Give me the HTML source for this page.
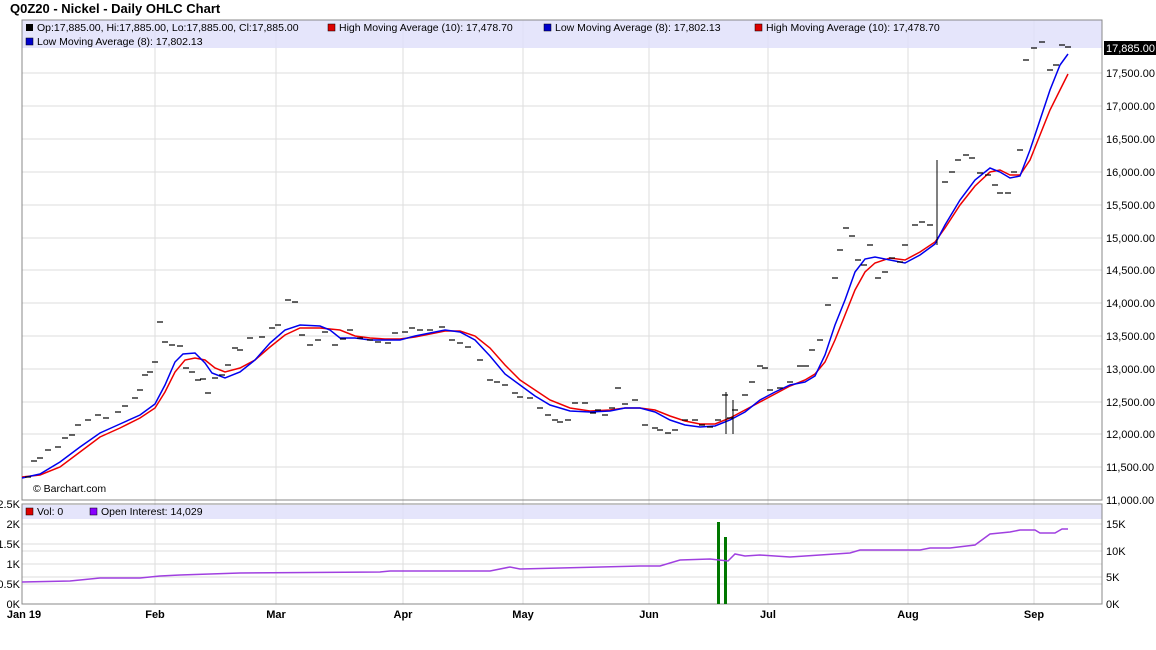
<!DOCTYPE html>
<html><head><meta charset="utf-8"><style>
body{margin:0;background:#fff;font-family:"Liberation Sans",sans-serif;}
svg text{font-family:"Liberation Sans",sans-serif;}
</style></head><body>
<svg width="1156" height="645" xmlns="http://www.w3.org/2000/svg">
<rect width="1156" height="645" fill="#fff"/>
<text x="10" y="13" font-size="13" font-weight="bold" fill="#000">Q0Z20 - Nickel - Daily OHLC Chart</text>
<g stroke="#ddd" stroke-width="1">
<line x1="155" y1="20" x2="155" y2="604"/><line x1="276" y1="20" x2="276" y2="604"/><line x1="403" y1="20" x2="403" y2="604"/><line x1="523" y1="20" x2="523" y2="604"/><line x1="649" y1="20" x2="649" y2="604"/><line x1="768" y1="20" x2="768" y2="604"/><line x1="908" y1="20" x2="908" y2="604"/><line x1="1034" y1="20" x2="1034" y2="604"/>
<line x1="22" y1="73" x2="1102" y2="73"/><line x1="22" y1="106" x2="1102" y2="106"/><line x1="22" y1="139" x2="1102" y2="139"/><line x1="22" y1="172" x2="1102" y2="172"/><line x1="22" y1="205" x2="1102" y2="205"/><line x1="22" y1="238" x2="1102" y2="238"/><line x1="22" y1="270" x2="1102" y2="270"/><line x1="22" y1="303" x2="1102" y2="303"/><line x1="22" y1="336" x2="1102" y2="336"/><line x1="22" y1="369" x2="1102" y2="369"/><line x1="22" y1="402" x2="1102" y2="402"/><line x1="22" y1="434" x2="1102" y2="434"/><line x1="22" y1="467" x2="1102" y2="467"/>
<line x1="22" y1="524" x2="1102" y2="524"/><line x1="22" y1="544" x2="1102" y2="544"/><line x1="22" y1="551" x2="1102" y2="551"/><line x1="22" y1="564" x2="1102" y2="564"/><line x1="22" y1="577" x2="1102" y2="577"/><line x1="22" y1="584" x2="1102" y2="584"/>
</g>
<rect x="22" y="20" width="1080" height="28" fill="#e0e0fa" opacity="0.85"/>
<rect x="22" y="505" width="1080" height="14" fill="#e0e0fa" opacity="0.85"/>
<g font-size="10.5" fill="#000">
<rect x="26" y="24" width="7" height="7" fill="#000"/><text x="37" y="31">Op:17,885.00, Hi:17,885.00, Lo:17,885.00, Cl:17,885.00</text>
<rect x="328" y="24" width="7" height="7" fill="#d00" stroke="#000" stroke-width=".5"/><text x="339" y="31">High Moving Average (10): 17,478.70</text>
<rect x="544" y="24" width="7" height="7" fill="#00c" stroke="#000" stroke-width=".5"/><text x="555" y="31">Low Moving Average (8): 17,802.13</text>
<rect x="755" y="24" width="7" height="7" fill="#d00" stroke="#000" stroke-width=".5"/><text x="766" y="31">High Moving Average (10): 17,478.70</text>
<rect x="26" y="38" width="7" height="7" fill="#00c" stroke="#000" stroke-width=".5"/><text x="37" y="45">Low Moving Average (8): 17,802.13</text>
<text x="33" y="492">© Barchart.com</text>
<rect x="26" y="508" width="7" height="7" fill="#d00" stroke="#000" stroke-width=".5"/><text x="37" y="515">Vol: 0</text>
<rect x="90" y="508" width="7" height="7" fill="#80f" stroke="#000" stroke-width=".5"/><text x="101" y="515">Open Interest: 14,029</text>
</g>
<rect x="22" y="20" width="1080" height="480" fill="none" stroke="#888"/>
<rect x="22" y="504" width="1080" height="100" fill="none" stroke="#888"/>
<g font-size="11" fill="#000">
<text x="1106" y="77">17,500.00</text><text x="1106" y="110">17,000.00</text><text x="1106" y="143">16,500.00</text><text x="1106" y="176">16,000.00</text><text x="1106" y="209">15,500.00</text><text x="1106" y="242">15,000.00</text><text x="1106" y="274">14,500.00</text><text x="1106" y="307">14,000.00</text><text x="1106" y="340">13,500.00</text><text x="1106" y="373">13,000.00</text><text x="1106" y="406">12,500.00</text><text x="1106" y="438">12,000.00</text><text x="1106" y="471">11,500.00</text><text x="1106" y="504">11,000.00</text>
<rect x="1104" y="41" width="52" height="14" fill="#000"/><text x="1106" y="52" fill="#fff">17,885.00</text>
<text x="1106" y="528">15K</text><text x="1106" y="555">10K</text><text x="1106" y="581">5K</text><text x="1106" y="608">0K</text>
<g text-anchor="end"><text x="20" y="508">2.5K</text><text x="20" y="528">2K</text><text x="20" y="548">1.5K</text><text x="20" y="568">1K</text><text x="20" y="588">0.5K</text><text x="20" y="608">0K</text></g>
<g font-weight="bold" text-anchor="middle"><text x="24" y="618">Jan 19</text><text x="155" y="618">Feb</text><text x="276" y="618">Mar</text><text x="403" y="618">Apr</text><text x="523" y="618">May</text><text x="649" y="618">Jun</text><text x="768" y="618">Jul</text><text x="908" y="618">Aug</text><text x="1034" y="618">Sep</text></g>
</g>
<polyline fill="none" stroke="#e00" stroke-width="1.5" points="22,477 40,475 60,467 80,452 100,437 120,428 140,418 155,408 165,392 175,372 185,360 195,358 205,360 215,368 225,372 240,368 255,360 270,347 285,335 300,328 320,328 340,330 355,336 370,338 385,339 400,339 415,337 430,334 445,331 460,331 475,336 490,348 505,365 520,380 535,390 550,400 570,408 590,411 610,410 625,408 640,408 655,410 670,416 685,421 700,424 715,424 730,418 745,410 760,402 775,394 790,386 805,380 815,374 825,362 835,340 845,315 855,290 865,272 875,263 890,258 905,260 920,252 935,242 945,228 960,205 975,186 990,172 1000,170 1010,175 1020,175 1030,160 1040,135 1050,110 1060,90 1068,74"/>
<polyline fill="none" stroke="#00e" stroke-width="1.5" points="22,478 40,474 60,462 80,447 100,433 120,424 140,415 155,404 165,385 175,362 183,354 195,353 205,363 212,373 225,378 240,372 255,360 270,343 285,330 300,325 320,326 330,330 340,338 355,338 370,340 385,340 400,340 415,336 430,333 445,330 460,332 475,340 490,356 505,374 520,385 535,396 550,405 570,411 590,412 610,411 625,408 640,408 655,412 670,420 685,425 700,427 715,426 730,420 745,412 760,400 775,392 790,385 805,382 815,376 825,355 835,325 845,300 855,272 865,259 875,257 890,260 905,263 920,255 935,244 945,225 960,200 975,180 990,168 1000,172 1010,178 1020,176 1030,150 1040,120 1050,90 1060,65 1068,54"/>
<g id="ticks" stroke="#000" stroke-width="1.2"></g>
<line x1="726" y1="392" x2="726" y2="434" stroke="#000"/>
<line x1="733" y1="400" x2="733" y2="434" stroke="#000"/>
<line x1="937" y1="160" x2="937" y2="245" stroke="#000"/>
<rect x="717" y="522" width="3" height="82" fill="#070"/>
<rect x="724" y="537" width="3" height="67" fill="#070"/>
<polyline fill="none" stroke="#a040e0" stroke-width="1.5" points="22,582 70,581 100,578 140,578 160,576 180,575 240,573 380,572 390,571 490,571 510,567 520,569 640,566 660,566 680,560 710,559 728,561 735,554 745,556 760,555 790,557 850,553 860,550 890,550 920,550 930,548 950,548 975,545 990,534 1010,532 1020,530 1035,530 1040,533 1055,533 1062,529 1068,529"/>
</svg>
<script>
var p=[[28,477],[34,461],[40,458],[48,450],[58,447],[65,438],[72,435],[78,425],[88,420],[98,415],[106,418],[118,412],[125,406],[135,398],[140,390],[145,375],[150,372],[155,362],[160,322],[165,342],[172,345],[180,346],[186,368],[192,372],[198,380],[203,379],[208,393],[215,378],[222,375],[228,365],[235,348],[240,350],[250,338],[262,337],[272,328],[278,325],[288,300],[295,302],[302,335],[310,345],[318,340],[325,332],[335,345],[343,339],[350,330],[360,338],[370,340],[378,342],[388,343],[395,333],[405,332],[412,328],[420,330],[430,330],[442,327],[452,340],[460,343],[468,347],[480,360],[490,380],[497,382],[505,385],[515,393],[520,397],[530,398],[540,408],[548,415],[555,420],[560,422],[568,420],[575,403],[585,403],[593,413],[598,410],[605,415],[612,408],[618,388],[625,404],[635,400],[645,425],[655,428],[660,430],[668,433],[675,430],[685,420],[695,420],[702,425],[710,427],[718,420],[725,395],[730,418],[735,410],[745,395],[752,382],[760,366],[765,368],[770,390],[780,388],[790,382],[800,366],[806,366],[812,350],[820,340],[828,305],[835,278],[840,250],[846,228],[852,236],[858,260],[864,265],[870,245],[878,278],[885,272],[892,258],[900,262],[905,245],[915,225],[922,222],[930,225],[945,182],[952,172],[958,160],[966,155],[972,158],[980,173],[988,175],[995,185],[1000,193],[1008,193],[1014,172],[1020,150],[1026,60],[1034,48],[1042,42],[1050,70],[1056,65],[1062,45],[1068,47]];
var g=document.getElementById('ticks'),s='';
p.forEach(function(a){s+='<line x1="'+(a[0]-3)+'" y1="'+a[1]+'" x2="'+(a[0]+3)+'" y2="'+a[1]+'"/>';});
g.innerHTML=s;
</script>
</body></html>
